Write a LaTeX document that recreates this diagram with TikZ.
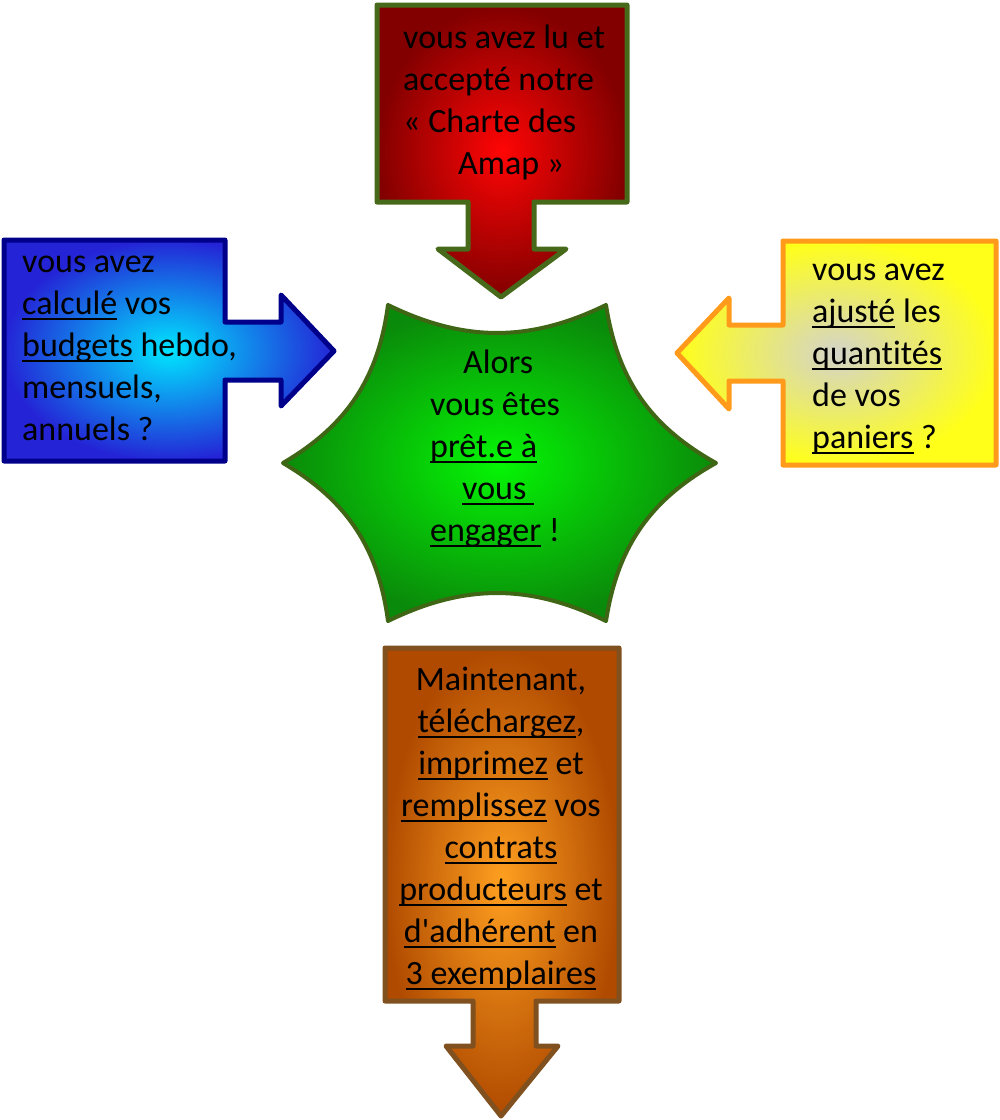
\documentclass[tikz,border=0pt]{standalone}
\usepackage{fontspec}
\setmainfont{Carlito}[Ligatures=NoCommon]
\newfontfamily\aposfont{Carlito}[Ligatures={TeXOff,NoCommon}]
\definecolor{redIn}{HTML}{FF0505}
\definecolor{redOut}{HTML}{820000}
\definecolor{oliveB}{HTML}{46691A}
\definecolor{blueIn}{HTML}{00E6FF}
\definecolor{blueOut}{HTML}{2424D6}
\definecolor{blueB}{HTML}{00008A}
\definecolor{yelIn}{HTML}{D4D4CA}
\definecolor{yelOut}{HTML}{FFFF1A}
\definecolor{yelB}{HTML}{FF9A1A}
\definecolor{grnIn}{HTML}{05F505}
\definecolor{grnOut}{HTML}{0A8A0A}
\definecolor{grnB}{HTML}{3F6614}
\definecolor{orIn}{HTML}{FFA020}
\definecolor{orOut}{HTML}{B04A00}
\definecolor{orB}{HTML}{80501E}
\newcommand\myul[1]{\setbox0\hbox{#1}\rlap{\rule[-6pt]{\wd0}{1.6pt}}\box0\relax}
\newcommand\mylines[1]{\vtop{\baselineskip=42pt\lineskiplimit=-100pt #1}}
\newcommand\cl[1]{\hbox to 250pt{\hfil #1\hfil}}
\begin{document}
\begin{tikzpicture}[x=1pt,y=-1pt,
  txt/.style={inner sep=0pt, anchor=base west, font=\fontsize{34}{42}\selectfont},
  callout/.style={line width=5pt, line join=round}]
\useasboundingbox (0,0) rectangle (1000,1120);
% red top
\shadedraw[callout, draw=oliveB, inner color=redIn, outer color=redOut]
  (377,5) -- (627,5) -- (627,202) -- (534,202) -- (534,249) -- (566,249) -- (501,297)
  -- (438,249) -- (468,249) -- (468,202) -- (377,202) -- cycle;
% blue left
\shadedraw[callout, draw=blueB, inner color=blueIn, outer color=blueOut]
  (4,240) -- (225,240) -- (225,322) -- (281,322) -- (281,295) -- (334,351)
  -- (281,406) -- (281,380) -- (225,380) -- (225,461) -- (4,461) -- cycle;
% yellow right
\shadedraw[callout, draw=yelB, inner color=yelIn, outer color=yelOut]
  (783,241) -- (996,241) -- (996,465) -- (783,465) -- (783,381) -- (729,381)
  -- (729,409) -- (677,353) -- (729,298) -- (729,325) -- (783,325) -- cycle;
% orange bottom
\shadedraw[callout, draw=orB, inner color=orIn, outer color=orOut]
  (385,648) -- (619,648) -- (619,1001) -- (536,1001) -- (536,1046) -- (558,1046)
  -- (501,1116) -- (446,1046) -- (473,1046) -- (473,1001) -- (385,1001) -- cycle;
% green star
\shadedraw[callout, line width=4pt, draw=grnB, inner color=grnIn, outer color=grnOut]
  (388,305) to[bend right=26] (606,305) to[bend right=26] (716,463)
  to[bend right=26] (606,621) to[bend right=26] (388,621)
  to[bend right=26] (283,463) to[bend right=26] cycle;
% texts
\node[txt] (tRed) at (403,48) {\mylines{\hbox{vous avez lu et}\hbox{accepté notre}\hbox{« Charte des}\hbox{\hspace*{55pt}Amap »}}};
\node[txt] (tBlue) at (22,272) {\mylines{\hbox{vous avez}\hbox{\myul{calculé} vos}\hbox{\myul{budgets} hebdo,}\hbox{mensuels,}\hbox{annuels ?}}};
\node[txt] (tYel) at (812,280) {\mylines{\hbox{vous avez}\hbox{\myul{ajusté} les}\hbox{\myul{quantités}}\hbox{de vos}\hbox{\myul{paniers} ?}}};
\node[txt] (tGrn) at (430,373) {\mylines{\hbox{\hspace*{33pt}Alors}\hbox{vous êtes}\hbox{\myul{prêt.e à}}\hbox{\hspace*{32pt}\myul{vous\ }}\hbox{\myul{engager} !}}};
\node[txt, anchor=base] (tOr) at (501,690) {\mylines{\cl{Maintenant,}\cl{\myul{téléchargez},}\cl{\myul{imprimez} et}\cl{\myul{remplissez} vos}\cl{\myul{contrats}}\cl{\myul{producteurs} et}\cl{\myul{d{\aposfont'}adhérent} en}\cl{\myul{3 exemplaires}}}};
\end{tikzpicture}
\end{document}
